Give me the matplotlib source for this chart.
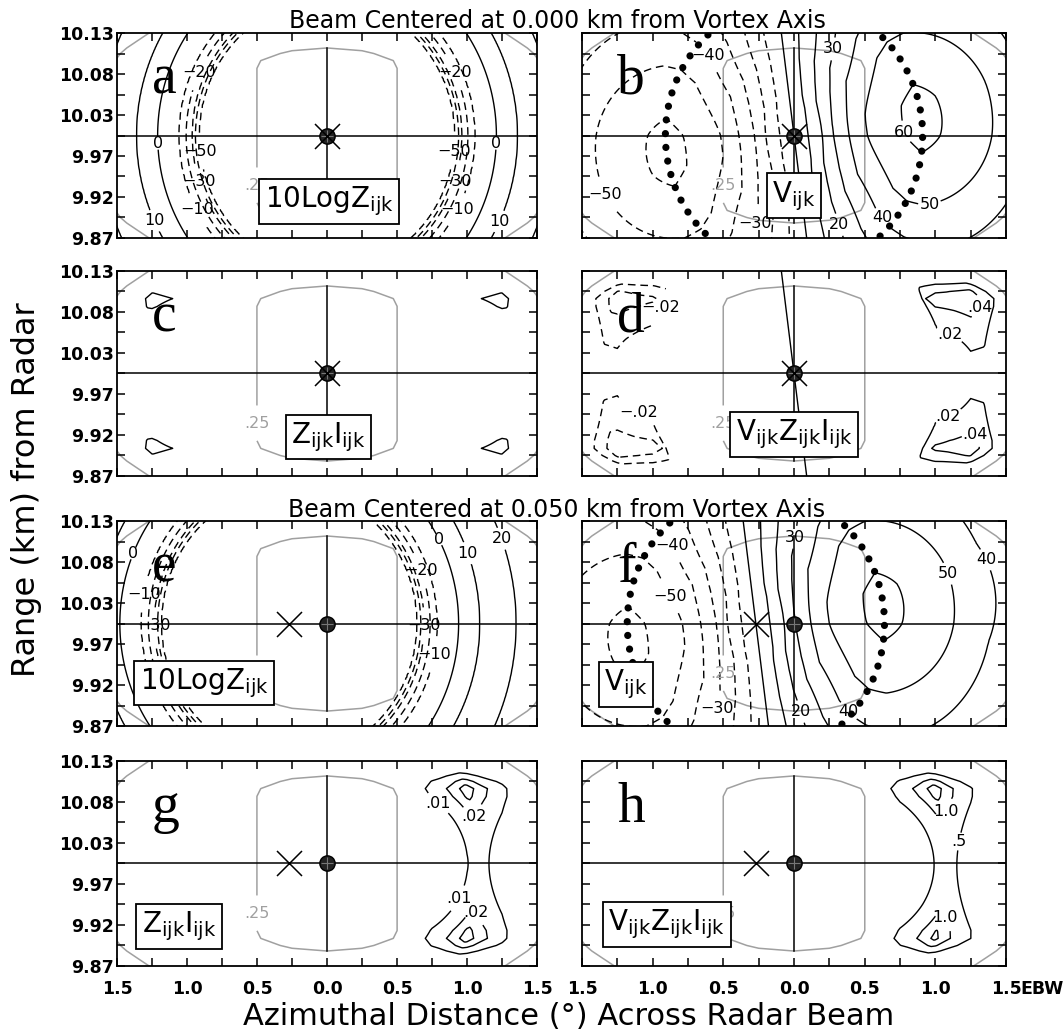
import numpy as np
import matplotlib.pyplot as plt

plt.rcParams['font.family'] = 'DejaVu Sans'
plt.rcParams['mathtext.fontset'] = 'dejavusans'

# 10logZ against scaled distance from the vortex axis (EBW units)
dbz_r = [0.0, 0.80, 0.914, 0.94, 0.962, 1.006, 1.055, 1.21, 1.36, 1.62, 2.0]
dbz_val = [-70, -60, -50, -40, -30, -20, -10, 0, 10, 20, 30]

# tangential wind (m/s) against the same scaled distance
vt_r = [0.0, 0.10, 0.20, 0.28, 0.39, 0.52, 0.785, 0.91, 1.035, 1.40, 1.65, 2.3]
vt_val = [0, 10, 20, 30, 40, 50, 60, 61.5, 60, 50, 40.5, 31]

# two-way beam weighting, log10: azimuth (EBW) and range offset (km)
az_x = [0.0, 0.25, 0.5, 0.75, 1.0, 1.25, 1.5, 1.75, 2.0]
az_logw = [0.0, -0.15, -0.60, -1.35, -2.41, -3.76, -5.42, -7.38, -9.63]
rng_dy = [0.0, 0.085, 0.095, 0.104, 0.111, 0.12, 0.13, 0.16]
rng_logw = [0.0, 0.0, -0.05, -0.30, -0.60, -1.10, -1.66, -3.5]

K = 5.3            # km of range offset -> EBW units
A = 0.13           # radial / tangential wind ratio
RMW = 0.91         # radius of maximum wind
x_vortex = [0.0, -0.27]   # vortex axis, upper and lower pair of rows

dbz_levels = [-50, -40, -30, -20, -10, 0, 10, 20]
vel_levels = [-60, -50, -40, -30, -20, -10, 0, 10, 20, 30, 40, 50, 60]
zi_levels_c = [0.001]
zi_levels_g = [0.01, 0.02, 0.03]
vzi_levels_d = [-0.04, -0.02, 0.0, 0.02, 0.04]
vzi_levels_h = [-0.5, 0.5, 1.0, 1.5]
beam_outer = 10 ** -5.56
beam_inner = 0.25

xt_major = [-1.5, -1.0, -0.5, 0.0, 0.5, 1.0, 1.5]
xt_labels = ['1.5', '1.0', '0.5', '0.0', '0.5', '1.0', '1.5']
yt_major = [9.87, 9.922, 9.974, 10.026, 10.078, 10.13]
yt_labels = ['9.87', '9.92', '9.97', '10.03', '10.08', '10.13']

# ---- fields on a grid ----
xg = np.linspace(-1.56, 1.56, 313)
yg = np.linspace(9.864, 10.136, 273)
X, Y = np.meshgrid(xg, yg)
DY = Y - 10.0
YS = DY * K
W = 10 ** (np.interp(np.abs(X), az_x, az_logw) + np.interp(np.abs(DY), rng_dy, rng_logw))


def vortex(x0):
    dx = X - x0
    r = np.hypot(dx, YS)
    dbz = np.interp(r, dbz_r, dbz_val)
    vd = np.interp(r, vt_r, vt_val) * (dx + A * YS) / np.maximum(r, 1e-6)
    zi = 10 ** (dbz / 10.0) * W
    return r, dbz, vd, zi, vd * zi


def fmt_int(v):
    return f'{v:.0f}'.replace('-', '\u2212')


def fmt_frac(v):
    s = f'{v:.2f}'.replace('0.', '.', 1)
    return s.replace('-', '\u2212')


def fmt_h(v):
    s = f'{v:.1f}'
    return s[1:] if s.startswith('0.') else s


dash = (0, (5.5, 3.5))


def contours(ax, field, levels, fmt=None, spots=()):
    cs = ax.contour(X, Y, field, levels=levels, colors='k', linewidths=1.0,
                    negative_linestyles=dash, zorder=2)
    if spots:
        labs = ax.clabel(cs, fmt=fmt, manual=list(spots), inline=True,
                         fontsize=11.5, inline_spacing=1)
        for t in labs:
            t.set_rotation(0)
    return cs


def frame(ax, x0, letter, box, box_xy, bottom_row, left_col):
    ax.set_xlim(-1.5, 1.5)
    ax.set_ylim(9.87, 10.13)
    ax.contour(X, Y, W, levels=[beam_outer], colors='#a0a0a0', linewidths=1.1, zorder=1)
    gcs = ax.contour(X, Y, W, levels=[beam_inner], colors='#a0a0a0', linewidths=1.1, zorder=1)
    labs = ax.clabel(gcs, fmt={beam_inner: '.25'}, manual=[(-0.5, 9.937)],
                     fontsize=11.5, inline=True)
    for t in labs:
        t.set_rotation(0)
    ax.axhline(10.0, color='k', lw=1.1, zorder=3)
    ax.plot([0, 0], [9.889, 10.111], color='k', lw=1.1, zorder=3)
    ax.plot(0, 10, 'o', ms=11, mfc='#222222', mec='k', zorder=5)
    ax.plot(0, 10, '+', ms=8, mew=0.8, color='#777777', zorder=5)
    ax.plot(x0, 10, 'x', ms=18, mew=1.1, color='k', zorder=5)
    ax.text(-1.25, 10.053, letter, family='Liberation Serif', fontsize=40,
            ha='left', va='baseline', zorder=6)
    ax.text(box_xy[0], box_xy[1], box, ha='center', va='center', fontsize=20, zorder=7,
            bbox=dict(boxstyle='square,pad=0.2', fc='white', ec='k', lw=1.3))

    ax.set_xticks(xt_major)
    ax.set_xticks(np.arange(-1.5, 1.51, 0.25), minor=True)
    ax.set_yticks(yt_major)
    ax.set_yticks([9.896, 9.948, 10.0, 10.052, 10.104], minor=True)
    ax.tick_params(which='both', direction='in', length=6, width=1.1,
                   top=True, right=True)
    ax.tick_params(axis='x', pad=10, labelsize=12.5)
    ax.tick_params(axis='y', pad=2, labelsize=12.5)
    if bottom_row:
        ax.set_xticklabels(xt_labels, fontweight='bold')
    else:
        ax.set_xticklabels([])
    if left_col:
        ax.set_yticklabels(yt_labels, fontweight='bold')
    else:
        ax.set_yticklabels([])
    for sp in ax.spines.values():
        sp.set_linewidth(1.3)


fig = plt.figure(figsize=(10.64, 10.32), dpi=100)
lefts = [0.110, 0.547]
widths = [0.3947, 0.3985]
bottoms = [0.7694, 0.5388, 0.2965, 0.0640]
height = 0.1986
axs = {}
for i, key in enumerate('abcdefgh'):
    row, col = divmod(i, 2)
    axs[key] = fig.add_axes([lefts[col], bottoms[row], widths[col], height])

sub = r'$_{\mathregular{ijk}}$'
lab_z = '10LogZ' + sub
lab_v = 'V' + sub
lab_zi = 'Z' + sub + 'I' + sub
lab_vzi = 'V' + sub + 'Z' + sub + 'I' + sub

r0, dbz0, vd0, zi0, vzi0 = vortex(x_vortex[0])
r1, dbz1, vd1, zi1, vzi1 = vortex(x_vortex[1])

# a: reflectivity, beam on the vortex axis
ax = axs['a']
contours(ax, dbz0, dbz_levels, fmt_int,
         [(-0.907, 10.079), (-1.22, 9.99), (-0.907, 9.98), (-0.907, 9.942),
          (-0.92, 9.906), (-1.22, 9.893), (0.907, 10.079), (0.907, 9.98),
          (0.907, 9.942), (0.92, 9.906), (1.22, 9.99), (1.23, 9.891)])
frame(ax, x_vortex[0], 'a', lab_z, (0.015, 9.9165), False, True)

# b: Doppler velocity
ax = axs['b']
contours(ax, vd0, vel_levels, fmt_int,
         [(-0.62, 10.099), (0.27, 10.11), (0.82, 10.006), (0.96, 9.912),
          (0.66, 9.901), (0.34, 9.888), (-0.26, 9.888), (-1.30, 9.929)])
rc = ax.contour(X, Y, r0, levels=[RMW], colors='k', linewidths=5.2,
                linestyles=[(0, (0.01, 1.9))], zorder=2)
rc.set_capstyle('round')
frame(ax, x_vortex[0], 'b', lab_v, (0.0, 9.9235), False, False)

# c: Z * I
ax = axs['c']
contours(ax, zi0, zi_levels_c)
frame(ax, x_vortex[0], 'c', lab_zi, (0.01, 9.9195), False, True)

# d: V * Z * I
ax = axs['d']
contours(ax, vzi0, vzi_levels_d, fmt_frac,
         [(-0.84, 10.074), (-1.10, 9.95), (1.30, 10.085), (1.11, 10.053),
          (1.10, 9.943), (1.28, 9.922)])
frame(ax, x_vortex[0], 'd', lab_vzi, (0.0, 9.9225), False, False)

# e: reflectivity, beam off the axis
ax = axs['e']
contours(ax, dbz1, dbz_levels, fmt_int,
         [(-1.37, 10.088), (-1.34, 10.038), (-1.232, 9.997), (0.781, 10.105),
          (0.983, 10.088), (1.234, 10.107), (0.67, 10.067), (0.69, 9.997),
          (0.817, 9.959)])
frame(ax, x_vortex[1], 'e', lab_z, (-0.88, 9.9245), False, True)

# f
ax = axs['f']
contours(ax, vd1, vel_levels, fmt_int,
         [(-0.89, 10.095), (-0.89, 10.033), (-0.012, 10.11), (1.05, 10.061),
          (1.38, 10.083), (-0.52, 9.891), (0.06, 9.889), (0.40, 9.891)])
rc = ax.contour(X, Y, r1, levels=[RMW], colors='k', linewidths=5.2,
                linestyles=[(0, (0.01, 1.9))], zorder=2)
rc.set_capstyle('round')
frame(ax, x_vortex[1], 'f', lab_v, (-1.19, 9.923), False, False)

# g
ax = axs['g']
contours(ax, zi1, zi_levels_g, fmt_frac,
         [(0.80, 10.078), (1.076, 10.051), (0.90, 9.959), (1.088, 9.94)])
frame(ax, x_vortex[1], 'g', lab_zi, (-1.055, 9.92), True, True)

# h
ax = axs['h']
contours(ax, vzi1, vzi_levels_h, fmt_h,
         [(1.195, 10.027), (1.13, 10.061), (1.12, 9.935)])
frame(ax, x_vortex[1], 'h', lab_vzi, (-0.90, 9.9225), True, False)
ax.annotate('EBW', xy=(1.5, 0), xycoords=('data', 'axes fraction'),
            xytext=(10.5, -10), textcoords='offset points', ha='left', va='top',
            fontsize=12.5, fontweight='bold')

fig.text(0.5235, 0.9729, 'Beam Centered at 0.000 km from Vortex Axis',
         ha='center', va='baseline', fontsize=17)
fig.text(0.5235, 0.4995, 'Beam Centered at 0.050 km from Vortex Axis',
         ha='center', va='baseline', fontsize=17)
fig.text(0.025, 0.5257, 'Range (km) from Radar', rotation=90,
         ha='center', va='center', fontsize=23)
fig.text(0.534, 0.007, 'Azimuthal Distance (\u00b0) Across Radar Beam',
         ha='center', va='baseline', fontsize=22)

fig.savefig('out.png', dpi=100)
